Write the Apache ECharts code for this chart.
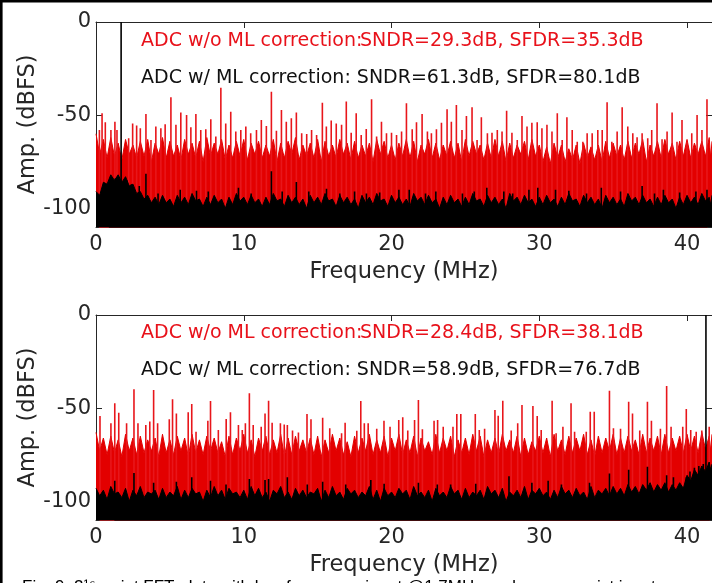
<!DOCTYPE html>
<html>
<head>
<meta charset="utf-8">
<script src="https://cdn.jsdelivr.net/npm/echarts@6/dist/echarts.min.js"></script>
<style>
html,body{margin:0;padding:0;background:#fff;}
#chart{width:712px;height:583px;}
</style>
</head>
<body>
<div id="chart"></div>
<script>
// ---------------- data ----------------
const xTicks = [0, 10, 20, 30, 40];
const yTicks = [-100, -50, 0];
const xName = 'Frequency (MHz)';
const yName = 'Amp. (dBFS)';

// noise-band local maxima (at peakFreq) and local minima (at valleyFreq), MHz
const peakFreq = [0,0.5,1,1.5,2,2.5,3,3.5,4,4.5,5,5.5,6,6.5,7,7.5,8,8.5,9,9.5,10,10.5,11,11.5,12,12.5,13,13.5,14,14.5,15,15.5,16,16.5,17,17.5,18,18.5,19,19.5,20,20.5,21,21.5,22,22.5,23,23.5,24,24.5,25,25.5,26,26.5,27,27.5,28,28.5,29,29.5,30,30.5,31,31.5,32,32.5,33,33.5,34,34.5,35,35.5,36,36.5,37,37.5,38,38.5,39,39.5,40,40.5,41,41.5,41.69];
const valleyFreq = [0.25,0.75,1.25,1.75,2.25,2.75,3.25,3.75,4.25,4.75,5.25,5.75,6.25,6.75,7.25,7.75,8.25,8.75,9.25,9.75,10.25,10.75,11.25,11.75,12.25,12.75,13.25,13.75,14.25,14.75,15.25,15.75,16.25,16.75,17.25,17.75,18.25,18.75,19.25,19.75,20.25,20.75,21.25,21.75,22.25,22.75,23.25,23.75,24.25,24.75,25.25,25.75,26.25,26.75,27.25,27.75,28.25,28.75,29.25,29.75,30.25,30.75,31.25,31.75,32.25,32.75,33.25,33.75,34.25,34.75,35.25,35.75,36.25,36.75,37.25,37.75,38.25,38.75,39.25,39.75,40.25,40.75,41.25,41.6];

// Top plot (input @1.7 MHz)
const topRedPeak = [-60,-63,-62,-65,-63,-66,-64,-63,-65,-62, -64,-66,-63,-65,-64,-62,-65,-63,-66,-64, -63,-65,-64,-66,-63,-65,-64,-62,-66,-65, -63,-64,-66,-63,-65,-64,-66,-65,-63,-64, -66,-65,-63,-64,-66,-63,-65,-66,-64,-65, -63,-64,-66,-65,-63,-64,-65,-66,-64,-63, -66,-67,-65,-66,-68,-66,-65,-67,-66,-64, -65,-66,-64,-65,-63,-66,-64,-63,-65,-64, -63,-65,-64,-62,-64];
const topRedValley = [-71,-73,-72,-74,-71,-73,-72,-75,-71,-73, -72,-74,-71,-73,-75,-72,-71,-74,-73,-72, -74,-71,-73,-72,-75,-73,-71,-74,-72,-73, -75,-72,-73,-71,-74,-73,-72,-75,-71,-73, -74,-72,-73,-75,-71,-73,-74,-72,-73,-75, -72,-71,-74,-73,-72,-75,-73,-71,-74,-72, -75,-76,-73,-75,-74,-76,-73,-74,-75,-73, -72,-74,-73,-71,-75,-72,-73,-71,-74,-72, -73,-71,-72,-73];
const topBlackPeak = [-91,-86,-82,-82,-83,-87,-91,-93,-94,-93, -95,-93,-94,-92,-95,-94,-93,-95,-94,-92, -94,-93,-95,-94,-92,-95,-93,-94,-95,-93, -94,-92,-95,-93,-94,-95,-93,-94,-92,-95, -93,-94,-95,-92,-94,-93,-95,-94,-93,-95, -94,-92,-95,-93,-94,-95,-92,-94,-93,-95, -94,-93,-95,-94,-92,-95,-93,-94,-95,-93, -94,-95,-92,-94,-93,-95,-94,-93,-95,-94, -93,-94,-92,-94,-93];
const topBlackValley = [-93,-87,-85,-86,-88,-92,-95,-97,-98,-97, -99,-97,-98,-96,-99,-98,-97,-100,-98,-96, -98,-97,-99,-98,-96,-99,-97,-98,-100,-97, -98,-96,-99,-97,-98,-100,-97,-98,-96,-99, -97,-98,-99,-96,-98,-97,-100,-98,-97,-99, -98,-96,-99,-97,-98,-100,-96,-98,-97,-99, -98,-97,-99,-98,-96,-99,-97,-98,-100,-97, -98,-99,-96,-98,-97,-99,-98,-97,-100,-98, -97,-98,-96,-98];
const topRedSpurs = [
 [0.23,-57.9],[0.41,-49.0],[0.63,-53.8],[1.01,-57.9],[1.28,-53.5],[1.42,-57.9],[2.21,-62.4],[2.48,-54.4],[2.75,-55.6],[3.0,-57.0],
 [3.38,-49.4],[3.72,-63.3],[4.05,-56.1],[4.39,-57.0],[4.68,-54.9],[5.07,-40.4],[5.41,-55.2],[5.74,-48.6],[6.13,-49.9],[6.42,-56.5],
 [6.76,-49.4],[7.09,-57.9],[7.43,-57.6],[7.77,-52.2],[8.11,-61.5],[8.45,-35.3],[8.78,-54.4],[9.12,-48.1],[9.46,-58.8],[9.8,-57.9],
 [10.14,-56.1],[10.47,-59.7],[10.86,-57.9],[11.19,-52.6],[11.53,-55.8],[11.87,-37.4],[12.21,-58.3],[12.55,-47.2],[12.88,-53.5],[13.22,-51.7],
 [13.56,-48.6],[13.92,-59.7],[14.26,-60.1],[14.59,-57.9],[14.93,-60.6],[15.32,-43.3],[15.59,-56.1],[15.92,-52.9],[16.26,-54.4],[16.62,-55.2],
 [16.94,-42.7],[17.27,-59.4],[17.61,-49.0],[17.95,-60.6],[18.29,-57.4],[18.65,-41.5],[18.99,-61.5],[19.32,-53.5],[19.66,-59.7],[20.0,-59.4],
 [20.34,-60.6],[20.68,-58.8],[21.01,-43.6],[21.4,-57.6],[21.69,-53.8],[22.07,-49.4],[22.43,-58.8],[22.7,-59.7],[23.04,-57.6],[23.38,-54.0],
 [23.76,-46.8],[24.05,-53.5],[24.39,-44.6],[24.77,-57.9],[25.07,-50.4],[25.45,-45.8],[25.79,-63.3],[26.08,-51.1],[26.49,-59.7],[26.8,-59.4],
 [27.16,-57.9],[27.48,-58.8],[27.79,-47.6],[28.15,-59.4],[28.51,-63.3],[28.83,-50.4],[29.17,-56.1],[29.5,-54.0],[29.86,-53.8],[30.18,-57.0],
 [30.52,-55.2],[30.86,-58.8],[31.22,-49.0],[31.55,-63.3],[31.87,-51.1],[32.23,-57.9],[32.57,-64.2],[32.95,-64.2],[33.24,-59.7],[33.58,-59.7],
 [33.96,-57.9],[34.26,-57.9],[34.59,-43.1],[34.91,-64.2],[35.27,-58.8],[35.61,-45.8],[35.99,-56.1],[36.33,-59.7],[36.62,-61.9],[36.96,-59.7],
 [37.34,-62.4],[37.61,-57.9],[37.97,-43.6],[38.31,-62.9],[38.65,-58.8],[38.99,-48.6],[39.32,-64.2],[39.66,-52.6],[40.0,-64.2],[40.32,-59.7],
 [40.68,-49.9],[41.01,-57.9],[41.35,-41.5]
];
const topBlackSpurs = [
 [0.9,-86],[1.3,-84],[2.1,-85],[2.4,-87],[2.93,-88],[3.38,-81.4],[4.2,-92],[5.7,-90],[6.8,-90.5],[7.6,-91],
 [9.64,-89],[10.5,-92],[11.87,-80.1],[12.6,-91],[13.56,-85.8],[14.4,-91],[15.6,-89.5],[16.5,-92],[17.5,-91],[18.3,-92],
 [19.2,-91.5],[20.5,-90],[21.2,-90],[22.3,-92],[23.0,-91],[24.8,-92],[25.6,-91],[26.45,-89],[27.6,-91],[28.2,-92],
 [29.3,-90],[29.9,-89],[31.1,-90],[32.0,-90.5],[33.2,-92],[34.2,-89],[35.5,-91],[36.96,-88],[37.8,-92],[38.4,-90],
 [39.5,-91.5],[40.6,-91],[41.35,-90]
];
const topTone = [1.7, 0];

// Bottom plot (near-Nyquist input)
const botRedPeak = [-63,-66,-65,-67,-64,-66,-65,-67,-66,-64, -67,-65,-66,-64,-67,-65,-66,-68,-65,-66, -64,-67,-66,-65,-67,-64,-66,-65,-67,-66, -65,-67,-64,-66,-68,-65,-66,-64,-67,-65, -66,-64,-67,-65,-66,-68,-64,-66,-65,-67, -66,-64,-65,-67,-66,-64,-67,-65,-66,-68, -65,-66,-64,-67,-65,-66,-64,-67,-65,-66, -64,-66,-65,-67,-64,-66,-65,-64,-66,-65, -64,-65,-63,-65,-64];
const botRedValley = [-73,-75,-74,-76,-73,-75,-74,-73,-76,-74, -75,-73,-76,-74,-75,-73,-74,-76,-75,-73, -74,-76,-73,-75,-74,-76,-75,-73,-74,-75, -76,-74,-73,-75,-76,-74,-73,-75,-74,-76, -73,-75,-74,-76,-73,-75,-74,-73,-76,-74, -75,-73,-76,-74,-75,-73,-74,-76,-75,-73, -74,-76,-73,-75,-74,-73,-75,-76,-74,-73, -75,-74,-73,-75,-74,-73,-75,-74,-73,-74, -73,-74,-72,-73];
const botBlackPeak = [-93,-94,-92,-95,-93,-94,-92,-95,-94,-93, -95,-92,-94,-93,-95,-94,-92,-94,-93,-95, -94,-92,-93,-95,-94,-92,-95,-93,-94,-95, -93,-94,-92,-95,-93,-94,-95,-92,-94,-93, -95,-93,-94,-92,-95,-94,-93,-95,-92,-94, -93,-95,-94,-92,-94,-93,-95,-94,-92,-94, -93,-95,-94,-92,-94,-93,-95,-92,-94,-93, -92,-93,-91,-92,-91,-90,-91,-90,-91,-90, -86,-83,-81,-79,-80];
const botBlackValley = [-97,-99,-96,-98,-100,-97,-98,-96,-99,-98, -97,-99,-98,-96,-100,-98,-97,-99,-96,-98, -99,-97,-98,-100,-96,-98,-99,-97,-98,-96, -100,-98,-97,-99,-96,-98,-97,-99,-100,-97, -98,-96,-99,-97,-98,-100,-97,-98,-96,-99, -98,-97,-99,-96,-98,-100,-97,-98,-99,-96, -97,-99,-98,-96,-98,-97,-99,-98,-96,-97, -96,-97,-95,-96,-94,-95,-94,-95,-94,-93, -89,-86,-84,-83];
const botRedSpurs = [
 [0.27,-54.2],[1.01,-58.1],[1.27,-47.4],[1.54,-52.4],[2.07,-58.1],[2.57,-39.9],[2.84,-58.1],[3.37,-59.0],[3.64,-57.2],[3.9,-40.2],
 [4.17,-58.1],[4.96,-56.0],[5.18,-45.2],[5.44,-52.8],[6.24,-52.2],[6.48,-47.8],[6.77,-62.6],[7.57,-56.7],[7.75,-46.1],[8.28,-61.7],
 [8.81,-55.8],[9.1,-52.2],[9.64,-59.0],[9.9,-61.7],[10.11,-58.1],[10.38,-42.0],[10.64,-59.0],[11.18,-59.9],[11.44,-52.8],[11.68,-46.0],
 [11.92,-57.8],[12.48,-58.1],[12.74,-58.7],[12.95,-59.0],[13.3,-62.0],[13.7,-63.0],[14.28,-53.1],[14.55,-56.0],[15.34,-55.1],[15.82,-60.8],
 [16.62,-63.5],[16.86,-57.8],[17.65,-62.1],[17.92,-46.1],[18.16,-58.1],[18.42,-58.1],[19.0,-61.0],[19.49,-56.7],[19.9,-60.0],[20.49,-56.3],
 [20.76,-54.9],[21.1,-62.0],[21.56,-56.3],[21.82,-45.6],[22.09,-61.3],[22.88,-56.7],[23.12,-56.3],[23.5,-60.0],[24.16,-59.9],[24.42,-53.1],
 [24.69,-53.1],[25.67,-53.1],[25.94,-61.7],[26.3,-61.0],[27.0,-51.0],[27.22,-54.0],[27.53,-46.0],[28.1,-62.0],[28.54,-58.1],[28.83,-48.3],
 [29.57,-48.8],[29.86,-54.2],[30.13,-61.7],[30.87,-46.0],[31.14,-63.5],[31.6,-60.0],[32.15,-47.4],[32.39,-62.6],[33.18,-62.6],[33.45,-51.9],
 [33.72,-51.9],[34.75,-40.6],[35.02,-60.8],[35.5,-61.0],[36.05,-46.5],[36.31,-52.8],[36.8,-62.0],[37.32,-46.5],[37.59,-56.7],[38.2,-61.0],
 [38.62,-38.1],[38.92,-59.9],[39.71,-59.9],[39.95,-50.4],[40.25,-61.7],[40.62,-62.6],[41.0,-62.0],[41.5,-60.0]
];
const botBlackSpurs = [
 [1.27,-89],[2.57,-84.8],[3.9,-90],[5.44,-89.5],[6.48,-87],[7.75,-89],[8.8,-91],[10.38,-88],[11.44,-88.5],[11.68,-88],
 [12.95,-87],[14.3,-91],[15.34,-89.5],[16.9,-91],[18.6,-88.5],[19.5,-90.5],[21.82,-90],[23.1,-91],[24.0,-91],[25.7,-90.5],
 [27.95,-86.5],[29.5,-90],[30.6,-89],[31.5,-91],[33.4,-90],[34.75,-85],[36.05,-83],[37.32,-81.4],[38.62,-86],[39.08,-87],
 [39.95,-87],[40.2,-84],[40.5,-82],[40.8,-81],[41.1,-80],[41.5,-79]
];
const botTone = [41.28, 0];

// annotation texts
const topTexts = ['ADC w/o ML correction:', 'SNDR=29.3dB, SFDR=35.3dB', 'ADC w/ ML correction: SNDR=61.3dB, SFDR=80.1dB'];
const botTexts = ['ADC w/o ML correction:', 'SNDR=28.4dB, SFDR=38.1dB', 'ADC w/ ML correction: SNDR=58.9dB, SFDR=76.7dB'];
const caption = 'Fig. 9. 2\u00B9\u2076-point FFT plots with low-frequency input @1.7MHz and near-nyquist input';

// ---------------- chart ----------------
const X_MAX = 41.69, Y_MIN = -110, Y_MAX = 0;
const AX = '#262626';
const RED = '#e30000';
const FONT = 'DejaVu Sans';

function band(peaks, valleys){
  const pts = peakFreq.map((f,i)=>[f, peaks[i]]).concat(valleyFreq.map((f,i)=>[f, valleys[i]]));
  pts.sort((a,b)=>a[0]-b[0]);
  return pts;
}
function spikes(list){
  const out = [];
  list.forEach(([f,v]) => { out.push([f, Y_MIN], [f, v], [f, Y_MIN]); });
  return out;
}

const grids = [
  {left:96, top:22, width:617, height:205},
  {left:96, top:315, width:617, height:205}
];

const xAxes = [], yAxes = [];
grids.forEach((g, gi) => {
  xAxes.push({
    gridIndex: gi, type:'value', min:0, max:X_MAX, position:'bottom',
    axisLine:{show:true, onZero:false, lineStyle:{color:AX, width:1}},
    axisTick:{show:true, inside:true, length:6, customValues:xTicks, lineStyle:{color:AX}},
    axisLabel:{show:true, customValues:xTicks, fontSize:21, color:AX, fontFamily:FONT, margin:7},
    splitLine:{show:false},
    name:xName, nameLocation:'middle', nameGap:34, nameMoveOverlap:false,
    nameTextStyle:{fontSize:22.5, color:AX, fontFamily:FONT}
  });
  xAxes.push({
    gridIndex: gi, type:'value', min:0, max:X_MAX, position:'top',
    axisLine:{show:true, onZero:false, lineStyle:{color:AX, width:1}},
    axisTick:{show:true, inside:true, length:6, customValues:xTicks, lineStyle:{color:AX}},
    axisLabel:{show:false}, splitLine:{show:false}
  });
  yAxes.push({
    gridIndex: gi, type:'value', min:Y_MIN, max:Y_MAX, position:'left',
    axisLine:{show:true, onZero:false, lineStyle:{color:AX, width:1}},
    axisTick:{show:true, inside:true, length:6, customValues:yTicks, lineStyle:{color:AX}},
    axisLabel:{show:true, customValues:yTicks, fontSize:21, color:AX, fontFamily:FONT, margin:5},
    splitLine:{show:false},
    name:yName, nameLocation:'middle', nameGap:56, nameMoveOverlap:false,
    nameTextStyle:{fontSize:22.5, color:AX, fontFamily:FONT}
  });
  yAxes.push({
    gridIndex: gi, type:'value', min:Y_MIN, max:Y_MAX, position:'right',
    axisLine:{show:true, onZero:false, lineStyle:{color:AX, width:1}},
    axisTick:{show:true, inside:true, length:6, customValues:yTicks, lineStyle:{color:AX}},
    axisLabel:{show:false}, splitLine:{show:false}
  });
});

function plotSeries(gi, rP, rV, bP, bV, redSpurs, blackSpurs, tone){
  const xi = gi*2, yi = gi*2;
  const base = {type:'line', xAxisIndex:xi, yAxisIndex:yi, symbol:'none', silent:true, animation:false};
  return [
    Object.assign({}, base, {data:band(rP, rV), lineStyle:{color:RED, width:1},
      areaStyle:{color:RED, opacity:1, origin:'start'}, z:2}),
    Object.assign({}, base, {data:spikes(redSpurs), lineStyle:{color:'#e8161b', width:1.6}, z:3}),
    Object.assign({}, base, {data:band(bP, bV), lineStyle:{color:'#000', width:1},
      areaStyle:{color:'#000', opacity:1, origin:'start'}, z:4}),
    Object.assign({}, base, {data:spikes(blackSpurs), lineStyle:{color:'#000', width:1.6}, z:5}),
    Object.assign({}, base, {data:spikes([tone]), lineStyle:{color:'#000', width:1.6}, z:6})
  ];
}

const series = [].concat(
  plotSeries(0, topRedPeak, topRedValley, topBlackPeak, topBlackValley, topRedSpurs, topBlackSpurs, topTone),
  plotSeries(1, botRedPeak, botRedValley, botBlackPeak, botBlackValley, botRedSpurs, botBlackSpurs, botTone)
);

function annot(texts, yRed, yBlack){
  const st = {fontSize:19, fontFamily:FONT, verticalAlign:'middle', align:'left'};
  return [
    {type:'text', x:141, y:yRed, z:100, style:Object.assign({text:texts[0], fill:'#e8111a'}, st)},
    {type:'text', x:360, y:yRed, z:100, style:Object.assign({text:texts[1], fill:'#e8111a'}, st)},
    {type:'text', x:141, y:yBlack, z:100, style:Object.assign({text:texts[2], fill:'#111'}, st)}
  ];
}

const graphic = [].concat(
  annot(topTexts, 41, 78),
  annot(botTexts, 333, 370),
  [
    {type:'text', x:22, y:579, z:100, style:{text:caption, fontSize:17, fontFamily:'Liberation Sans', fill:'#000', verticalAlign:'top', align:'left'}},
    {type:'line', z:100, shape:{x1:0, y1:1.3, x2:712, y2:1.3}, style:{stroke:'#000', lineWidth:2.6}},
    {type:'line', z:100, shape:{x1:1.3, y1:0, x2:1.3, y2:583}, style:{stroke:'#000', lineWidth:2.6}}
  ]
);

const chart = echarts.init(document.getElementById('chart'), null, {renderer:'canvas'});
chart.setOption({
  animation:false,
  backgroundColor:'#fff',
  grid:grids,
  xAxis:xAxes,
  yAxis:yAxes,
  series:series,
  graphic:graphic
});
</script>
</body>
</html>
